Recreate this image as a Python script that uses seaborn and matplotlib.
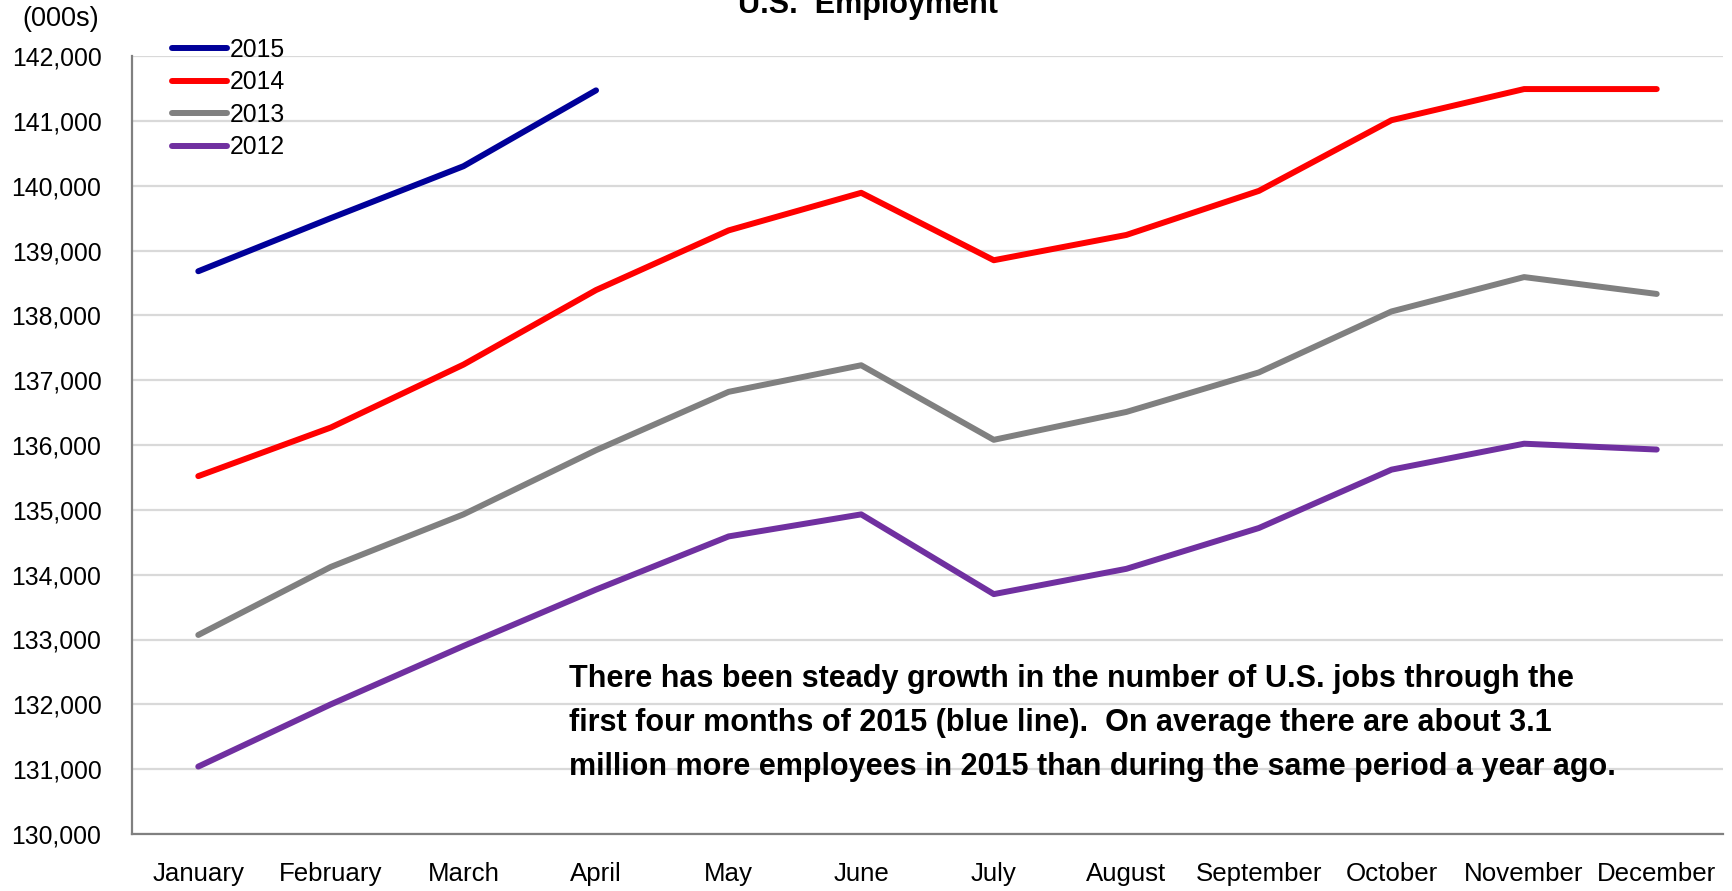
import numpy as np
import pandas as pd
import matplotlib
matplotlib.use("Agg")
import matplotlib.pyplot as plt
from matplotlib import font_manager as fm
from matplotlib.ticker import FixedLocator, FuncFormatter, NullFormatter
import seaborn as sns

# ---- data (thousands of employees) ----
months = ["January", "February", "March", "April", "May", "June",
          "July", "August", "September", "October", "November", "December"]
years = ["2015", "2014", "2013", "2012"]
emp_2015 = [138680, 139500, 140300, 141470]
emp_2014 = [135520, 136270, 137240, 138390, 139310, 139890,
            138850, 139240, 139920, 141010, 141490, 141490]
emp_2013 = [133070, 134120, 134930, 135920, 136820, 137230,
            136080, 136510, 137120, 138060, 138590, 138330]
emp_2012 = [131040, 132000, 132900, 133770, 134590, 134930,
            133700, 134090, 134720, 135620, 136020, 135930]
y_ticks = list(range(130000, 142001, 1000))

title = "U.S.  Employment"
unit_label = "(000s)"
note = ("There has been steady growth in the number of U.S. jobs through the\n"
        "first four months of 2015 (blue line).  On average there are about 3.1\n"
        "million more employees in 2015 than during the same period a year ago.")

colors = {"2015": "#000099", "2014": "#FF0000", "2013": "#808080", "2012": "#7030A0"}

series = {"2015": emp_2015, "2014": emp_2014, "2013": emp_2013, "2012": emp_2012}
rows = []
for yr in years:
    for i, v in enumerate(series[yr]):
        rows.append({"month_idx": i, "employment": v, "year": yr})
df = pd.DataFrame(rows)

# ---- fonts ----
def has_font(name):
    try:
        fm.findfont(fm.FontProperties(family=name), fallback_to_default=False)
        return True
    except ValueError:
        return False

narrow = has_font("Liberation Sans Narrow")
family = ["Liberation Sans Narrow", "DejaVu Sans"] if narrow else ["Liberation Sans", "DejaVu Sans"]
k = 1.0 if narrow else 0.83

sns.set_style("white")
plt.rcParams["font.family"] = family
plt.rcParams["text.color"] = "black"

W, H = 1733, 891
fig = plt.figure(figsize=(W / 100, H / 100), dpi=100)
left, right, top, bottom = 132, 1723, 56, 834
ax = fig.add_axes([left / W, 1 - bottom / H, (right - left) / W, (bottom - top) / H])

LW = 4.3
sns.lineplot(data=df, x="month_idx", y="employment", hue="year",
             hue_order=years, palette=colors, linewidth=LW, ax=ax,
             legend=True, sort=True)
for ln in ax.lines:
    ln.set_solid_capstyle("round")
    ln.set_solid_joinstyle("round")

ax.set_xlim(-0.5, len(months) - 0.5)
ax.set_ylim(y_ticks[0], y_ticks[-1])

# y axis
ax.yaxis.set_major_locator(FixedLocator(y_ticks))
ax.yaxis.set_major_formatter(FuncFormatter(lambda v, p: f"{int(v):,}"))
ax.tick_params(axis="y", which="major", direction="out", length=7, width=1.3,
               color="#808080", pad=15, labelsize=21.5 * k, labelcolor="black")
ax.grid(axis="y", color="#D9D9D9", linewidth=1.6)
ax.set_axisbelow(True)

# x axis: ticks on category boundaries, labels centered on categories
ax.xaxis.set_major_locator(FixedLocator(np.arange(-0.5, len(months), 1.0)))
ax.xaxis.set_major_formatter(NullFormatter())
ax.xaxis.set_minor_locator(FixedLocator(np.arange(len(months))))
ax.set_xticklabels(months, minor=True)
ax.tick_params(axis="x", which="major", direction="out", length=8, width=1.3,
               color="#808080")
ax.tick_params(axis="x", which="minor", length=0, pad=20, labelsize=22.5 * k,
               labelcolor="black")

ax.set_xlabel("")
ax.set_ylabel("")
for side in ["top", "right"]:
    ax.spines[side].set_visible(False)
for side in ["left", "bottom"]:
    ax.spines[side].set_color("#808080")
    ax.spines[side].set_linewidth(1.6)

# legend in the upper-left corner
leg = ax.legend(loc="upper left", bbox_to_anchor=(172 / W, 1 - 38 / H),
                bbox_transform=fig.transFigure, frameon=False,
                fontsize=21.5 * k, handlelength=2.2, handletextpad=0.12,
                labelspacing=0.34, borderpad=0, borderaxespad=0)
for h in leg.get_lines():
    h.set_linewidth(LW)
    h.set_solid_capstyle("round")

# title (partly above the canvas) and unit label
fig.text(868 / W, 1 - 13 / H, title, ha="center", va="baseline",
         fontsize=22, fontweight="bold")
fig.text(61 / W, 1 - 19 / H, unit_label, ha="center", va="center",
         fontsize=19.5)

# commentary
fig.text(569 / W, 1 - 664 / H, note, ha="left", va="top",
         fontsize=22, fontweight="bold", linespacing=1.6)

fig.savefig("out.png", dpi=100)
